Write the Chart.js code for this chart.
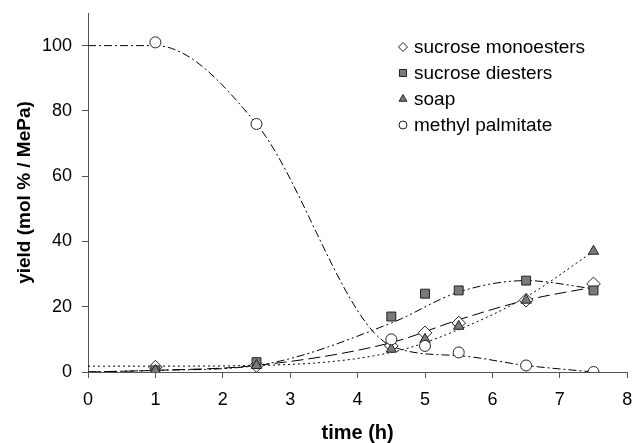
<!DOCTYPE html>
<html lang="en">
<head>
    <title>Yield vs time</title>
    <style>
        body { margin: 0; background: #fff; }
        .container { width: 635px; height: 443px; position: relative; }
    </style>
</head>
<body>
<div class="container">
    <canvas id="myChart"></canvas>
</div>
<script src="https://cdn.jsdelivr.net/npm/chart.js"></script>
<script>
    // measured points
    var hours = [1, 2.5, 4.5, 5, 5.5, 6.5, 7.5];
    var monoesters = [1.5, 2, 8, 12, 15, 22, 27];
    var diesters = [0.5, 3, 17, 24, 25, 28, 25];
    var soap = [0.5, 2, 7, 10, 14, 22, 37];
    var methylPalmitate = [101, 76, 10, 8, 6, 2, 0];

    // trend curves
    var trendHours = [0, 1, 2.5, 4.5, 5.5, 6.5, 7.5];
    var monoTrend = [0, 0.5, 2, 9, 16, 22, 26];
    var diTrend = [0, 0.5, 2, 15, 24.5, 28, 25.5];
    var soapTrend = [1.8, 1.8, 2, 6, 13, 23, 37];
    var mpTrend = [100, 100, 76, 8, 5, 2, 0];

    var xTicks = [0, 1, 2, 3, 4, 5, 6, 7, 8];
    var yTicks = [0, 20, 40, 60, 80, 100];

    var FONT = '"Liberation Sans", Arial, sans-serif';

    function pts(xs, ys) {
        var out = [];
        for (var i = 0; i < xs.length; i++) out.push({x: xs[i], y: ys[i]});
        return out;
    }

    function trend(data, dash) {
        return {
            data: pts(trendHours, data),
            showLine: true,
            borderColor: '#000',
            borderWidth: 1,
            borderDash: dash,
            pointRadius: 0,
            cubicInterpolationMode: 'monotone',
            order: 10
        };
    }

    // lower order is drawn on top (methyl palmitate last, like the original)
    function markers(label, data, style, radius, fill, order) {
        return {
            label: label,
            data: pts(hours, data),
            showLine: false,
            pointStyle: style,
            pointRadius: radius,
            pointBackgroundColor: fill,
            pointBorderColor: '#222',
            pointBorderWidth: 1,
            order: order
        };
    }

    var seriesLegend = [
        {label: 'sucrose monoesters', style: 'rectRot', radius: 4.5, fill: '#fff'},
        {label: 'sucrose diesters', style: 'rect', radius: 5, fill: '#7a7a7a'},
        {label: 'soap', style: 'triangle', radius: 4.5, fill: '#7a7a7a'},
        {label: 'methyl palmitate', style: 'circle', radius: 4, fill: '#fff'}
    ];

    var legendPlugin = {
        id: 'insideLegend',
        afterDraw: function (chart) {
            var ctx = chart.ctx;
            ctx.save();
            ctx.font = '19px ' + FONT;
            ctx.textBaseline = 'middle';
            for (var i = 0; i < seriesLegend.length; i++) {
                var s = seriesLegend[i];
                var y = 47 + i * 26;
                ctx.fillStyle = s.fill;
                ctx.strokeStyle = '#222';
                ctx.lineWidth = 1;
                Chart.helpers.drawPoint(ctx, {pointStyle: s.style, radius: s.radius, borderWidth: 1}, 403, y);
                ctx.fillStyle = '#000';
                ctx.fillText(s.label, 414, y + 1);
            }
            ctx.restore();
        }
    };

    var ctx = document.getElementById('myChart').getContext('2d');
    var myChart = new Chart(ctx, {
        type: 'scatter',
        data: {
            datasets: [
                markers('sucrose monoesters', monoesters, 'rectRot', 6.8, '#fff', 4),
                markers('sucrose diesters', diesters, 'rect', 6.3, '#7a7a7a', 3),
                markers('soap', soap, 'triangle', 6, '#7a7a7a', 2),
                markers('methyl palmitate', methylPalmitate, 'circle', 5.5, '#fff', 1),
                trend(monoTrend, [12, 5]),
                trend(diTrend, [8, 3, 2, 3, 2, 3]),
                trend(soapTrend, [2, 3]),
                trend(mpTrend, [8, 3, 2, 3])
            ]
        },
        options: {
            responsive: true,
            maintainAspectRatio: false,
            animation: false,
            layout: {padding: {top: 13, right: 6, left: 0, bottom: 0}},
            plugins: {
                legend: {display: false},
                tooltip: {enabled: false}
            },
            scales: {
                x: {
                    type: 'linear',
                    min: 0,
                    max: 8,
                    afterBuildTicks: function (axis) {
                        axis.ticks = xTicks.map(function (v) { return {value: v}; });
                    },
                    afterFit: function (axis) {
                        axis.height = 71;
                        axis.paddingLeft = 0;
                        axis.paddingRight = 0;
                    },
                    grid: {display: true, drawOnChartArea: false, drawTicks: true, tickLength: 6, color: '#555'},
                    border: {color: '#555', width: 1},
                    ticks: {color: '#000', font: {size: 18, family: FONT}, padding: 11, maxRotation: 0},
                    title: {display: true, text: 'time (h)', color: '#000', font: {size: 20, weight: 'bold', family: FONT, lineHeight: 1}, padding: {top: 0, bottom: 0}}
                },
                y: {
                    type: 'linear',
                    min: 0,
                    max: 110,
                    afterBuildTicks: function (axis) {
                        axis.ticks = yTicks.map(function (v) { return {value: v}; });
                    },
                    afterFit: function (axis) {
                        axis.width = 88;
                        axis.paddingTop = 0;
                        axis.paddingBottom = 0;
                    },
                    grid: {display: true, drawOnChartArea: false, drawTicks: true, tickLength: 6, color: '#555'},
                    border: {color: '#555', width: 1},
                    ticks: {color: '#000', font: {size: 18, family: FONT}, padding: 10},
                    title: {display: true, text: 'yield (mol % / MePa)', color: '#000', font: {size: 19, weight: 'bold', family: FONT, lineHeight: 1}, padding: {top: 15, bottom: 0}}
                }
            }
        },
        plugins: [legendPlugin]
    });
</script>
</body>
</html>
